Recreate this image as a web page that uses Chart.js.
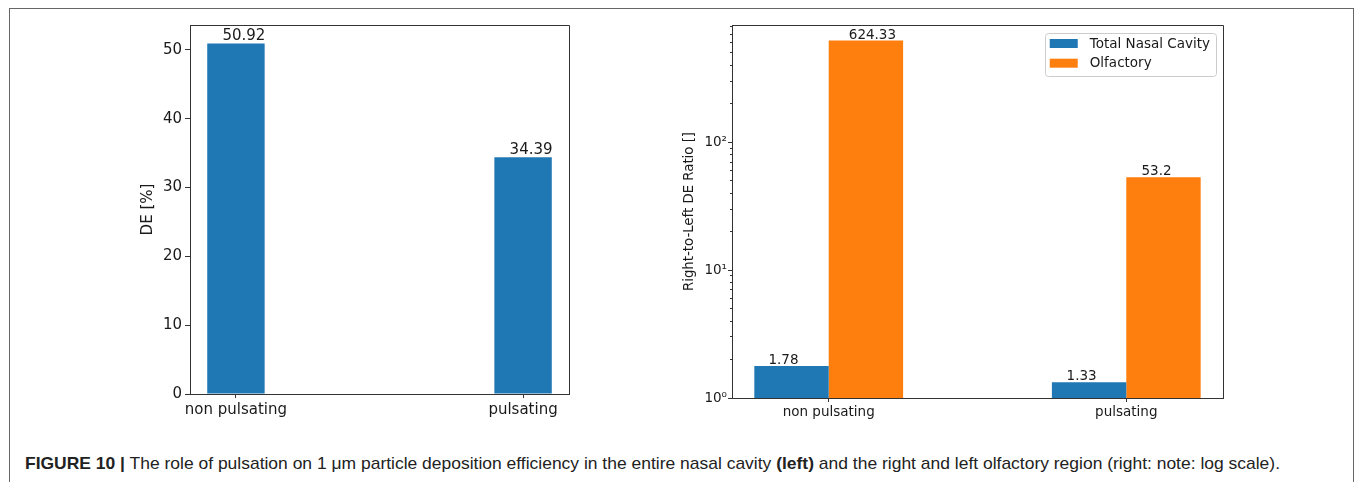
<!DOCTYPE html>
<html>
<head>
<meta charset="utf-8">
<script src="https://cdn.jsdelivr.net/npm/chart.js@4.4.0/dist/chart.umd.min.js"></script>
<style>
  body { margin: 0; background: #fff; width: 1355px; height: 482px; overflow: hidden; position: relative; }
  .frame { position: absolute; left: 9px; top: 8px; width: 1345px; height: 500px; border: 1px solid #666; box-sizing: border-box; }
  canvas { position: absolute; }
  #leftChart { left: 110px; top: 10px; }
  #rightChart { left: 650px; top: 10px; }
  #caption { position: absolute; left: 25px; top: 453px; font-family: 'Liberation Sans', Arial, sans-serif; font-size: 17px; line-height: 22px; color: #222; white-space: nowrap; transform-origin: 0 0; }
</style>
</head>
<body>
<div class="frame"></div>
<canvas id="leftChart" width="480" height="420"></canvas>
<canvas id="rightChart" width="600" height="420"></canvas>
<div id="caption"><b>FIGURE 10 |</b> The role of pulsation on 1 μm particle deposition efficiency in the entire nasal cavity <b>(left)</b> and the right and left olfactory region (right: note: log scale).</div>
<script>
// data
const categories = ['non pulsating', 'pulsating'];
const deValues = [50.92, 34.39];
const totalNasalRatio = [1.78, 1.33];
const olfactoryRatio = [624.33, 53.2];
const deTicks = [0, 10, 20, 30, 40, 50];
const ratioMajorTicks = [1, 10, 100];
const ratioTickLabels = { 1: '10\u2070', 10: '10\u00b9', 100: '10\u00b2' };

const spineColor = '#333';
const textColor = '#1a1a1a';
const blue = '#1f77b4';
const orange = '#ff7f0e';

Chart.defaults.font.family = "'DejaVu Sans', sans-serif";
Chart.defaults.color = textColor;

function alignPx(p) { return Math.round(p - 0.5) + 0.5; }

// top + right spines (matplotlib box)
const spines = {
    id: 'spines',
    afterDraw(chart) {
        const { ctx, chartArea: a } = chart;
        ctx.save();
        ctx.strokeStyle = spineColor;
        ctx.lineWidth = 1;
        ctx.beginPath();
        ctx.moveTo(alignPx(a.left), alignPx(a.top));
        ctx.lineTo(alignPx(a.right), alignPx(a.top));
        ctx.lineTo(alignPx(a.right), alignPx(a.bottom));
        ctx.stroke();
        ctx.restore();
    }
};

// numbers on top of the bars
const valueLabels = {
    id: 'valueLabels',
    afterDatasetsDraw(chart, args, opts) {
        const { ctx } = chart;
        ctx.save();
        ctx.font = opts.size + "px 'DejaVu Sans'";
        ctx.fillStyle = textColor;
        ctx.textAlign = 'center';
        ctx.textBaseline = 'alphabetic';
        chart.data.datasets.forEach((ds, di) => {
            chart.getDatasetMeta(di).data.forEach((bar, i) => {
                const dx = opts.shift[di][i];
                ctx.fillText(String(ds.data[i].y), bar.x + dx, bar.y - opts.lift);
            });
        });
        ctx.restore();
    }
};

// short minor ticks on the log axis
const minorTicks = {
    id: 'minorTicks',
    afterDraw(chart) {
        const { ctx, chartArea: a } = chart;
        const scale = chart.scales.y;
        ctx.save();
        ctx.strokeStyle = spineColor;
        ctx.lineWidth = 1;
        scale.ticks.forEach(t => {
            if (ratioMajorTicks.includes(t.value)) return;
            const y = alignPx(scale.getPixelForValue(t.value));
            ctx.beginPath();
            ctx.moveTo(a.left - 2, y);
            ctx.lineTo(a.left, y);
            ctx.stroke();
        });
        ctx.restore();
    }
};

// framed legend in the upper right corner of the plot
const boxLegend = {
    id: 'boxLegend',
    afterDraw(chart, args, opts) {
        const { ctx, chartArea: a } = chart;
        const font = opts.size + "px 'DejaVu Sans'";
        ctx.save();
        ctx.font = font;
        const textW = Math.max(...chart.data.datasets.map(d => ctx.measureText(d.label).width));
        const w = 5 + 28 + 12 + textW + 6;
        const h = 42.5;
        const right = a.right - 7;
        const left = right - w;
        const top = a.top + 7.5;
        ctx.fillStyle = 'rgba(255,255,255,0.8)';
        ctx.strokeStyle = '#cccccc';
        ctx.lineWidth = 1;
        ctx.beginPath();
        ctx.roundRect(Math.round(left) + 0.5, Math.round(top) + 0.5, Math.round(w), Math.round(h), 3);
        ctx.fill();
        ctx.stroke();
        ctx.textBaseline = 'middle';
        ctx.textAlign = 'left';
        chart.data.datasets.forEach((d, i) => {
            const cy = top + 11 + i * 19.7;
            ctx.fillStyle = d.backgroundColor;
            ctx.fillRect(left + 5, cy - 4.5, 28, 9);
            ctx.fillStyle = textColor;
            ctx.fillText(d.label, left + 45, cy + 0.5);
        });
        ctx.restore();
    }
};

function toPoints(values) {
    return values.map((v, i) => ({ x: i, y: v }));
}

// left: DE in %
new Chart(document.getElementById('leftChart'), {
    type: 'bar',
    data: {
        datasets: [{
            label: 'DE',
            data: toPoints(deValues),
            backgroundColor: blue,
            barPercentage: 0.2,
            categoryPercentage: 1
        }]
    },
    options: {
        responsive: false,
        animation: false,
        layout: { padding: { top: 15, right: 21, left: 0, bottom: 0 } },
        plugins: {
            legend: { display: false },
            tooltip: { enabled: false },
            valueLabels: { size: 15, lift: 3, shift: [[8, 8]] }
        },
        scales: {
            x: {
                type: 'linear',
                min: -0.16,
                max: 1.16,
                offset: false,
                afterBuildTicks: s => { s.ticks = categories.map((c, i) => ({ value: i })); },
                afterFit: s => { s.height = 36; },
                ticks: { callback: v => categories[v], font: { size: 15 }, padding: 3, maxRotation: 0, autoSkip: false },
                grid: { drawOnChartArea: false, tickLength: 4, tickColor: spineColor, offset: false },
                border: { color: spineColor, width: 1 }
            },
            y: {
                min: 0,
                max: 53.6,
                afterBuildTicks: s => { s.ticks = deTicks.map(v => ({ value: v })); },
                afterFit: s => { s.width = 80; },
                ticks: { font: { size: 15 }, padding: 3 },
                grid: { drawOnChartArea: false, tickLength: 5, tickColor: spineColor },
                border: { color: spineColor, width: 1 },
                title: { display: true, text: 'DE [%]', font: { size: 15 }, padding: { top: 29, bottom: 0 } }
            }
        }
    },
    plugins: [spines, valueLabels]
});

// right: right-to-left ratio, log scale
function logTickValues(maxVal) {
    const out = [];
    ratioMajorTicks.forEach(p => {
        for (let d = 1; d <= 9; d++) {
            if (d * p <= maxVal) out.push(d * p);
        }
    });
    return out;
}

const ratioMax = 826;

new Chart(document.getElementById('rightChart'), {
    type: 'bar',
    data: {
        datasets: [
            { label: 'Total Nasal Cavity', data: toPoints(totalNasalRatio), backgroundColor: blue, barPercentage: 1, categoryPercentage: 0.5 },
            { label: 'Olfactory', data: toPoints(olfactoryRatio), backgroundColor: orange, barPercentage: 1, categoryPercentage: 0.5 }
        ]
    },
    options: {
        responsive: false,
        animation: false,
        layout: { padding: { top: 15, right: 27, left: 0, bottom: 0 } },
        plugins: {
            legend: { display: false },
            tooltip: { enabled: false },
            valueLabels: { size: 13.5, lift: 2, shift: [[-8, -7.5], [6.5, -7]] },
            boxLegend: { size: 13.5 }
        },
        scales: {
            x: {
                type: 'linear',
                min: -0.325,
                max: 1.325,
                offset: false,
                afterBuildTicks: s => { s.ticks = categories.map((c, i) => ({ value: i })); },
                afterFit: s => { s.height = 32; },
                ticks: { callback: v => categories[v], font: { size: 13.5 }, padding: 2, maxRotation: 0, autoSkip: false },
                grid: { drawOnChartArea: false, tickLength: 4, tickColor: spineColor, offset: false },
                border: { color: spineColor, width: 1 }
            },
            y: {
                type: 'logarithmic',
                min: 1,
                max: ratioMax,
                afterBuildTicks: s => { s.ticks = logTickValues(ratioMax).map(v => ({ value: v })); },
                afterFit: s => { s.width = 82; },
                ticks: { autoSkip: false, font: { size: 13.5 }, padding: 1, callback: v => ratioTickLabels[v] || '' },
                grid: {
                    drawOnChartArea: false,
                    tickLength: 4,
                    tickColor: c => (c.tick && ratioMajorTicks.includes(c.tick.value)) ? spineColor : 'rgba(0,0,0,0)'
                },
                border: { color: spineColor, width: 1 },
                title: { display: true, text: 'Right-to-Left DE Ratio []', font: { size: 13.3 }, padding: { top: 32, bottom: 0 } }
            }
        }
    },
    plugins: [spines, valueLabels, minorTicks, boxLegend]
});

// stretch caption to the width it has in the figure
const cap = document.getElementById('caption');
const capW = cap.getBoundingClientRect().width;
cap.style.transform = 'scaleX(' + (1255 / capW) + ')';
</script>
</body>
</html>
